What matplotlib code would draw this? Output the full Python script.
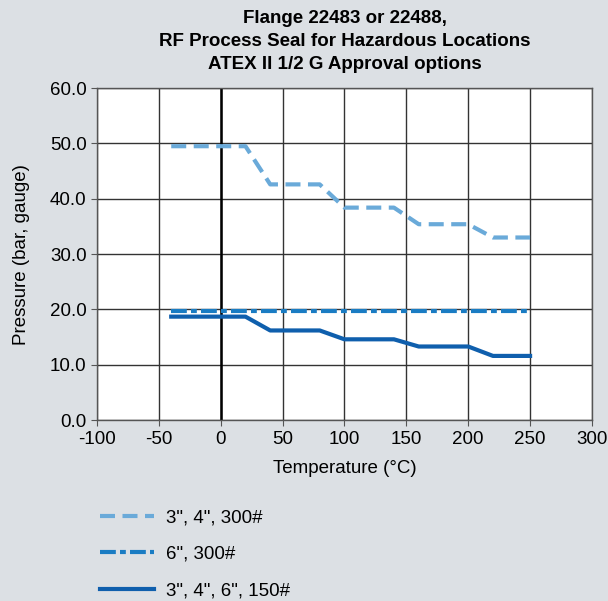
import matplotlib
matplotlib.use("Agg")
from matplotlib import pyplot as plt

plt.rcParams["font.family"] = ["Liberation Sans", "DejaVu Sans"]
plt.rcParams["axes.unicode_minus"] = False

# data
temp_300 = [-40, 20, 40, 80, 100, 140, 160, 200, 220, 250]
press_300 = [49.5, 49.5, 42.6, 42.6, 38.4, 38.4, 35.4, 35.4, 33.0, 33.0]

temp_6in = [-40, 250]
press_6in = [19.8, 19.8]

temp_150 = [-40, 20, 40, 80, 100, 140, 160, 200, 220, 250]
press_150 = [18.7, 18.7, 16.2, 16.2, 14.6, 14.6, 13.3, 13.3, 11.6, 11.6]

labels = ['3", 4", 300#', '6", 300#', '3", 4", 6", 150#']
x_ticks = [-100, -50, 0, 50, 100, 150, 200, 250, 300]
y_ticks = [0, 10, 20, 30, 40, 50, 60]

fs = 13.5
bg = "#dce0e4"
fig = plt.figure(figsize=(6.08, 6.01), dpi=100, facecolor=bg)
ax = fig.add_axes([0.1595, 0.301, 0.8141, 0.5524])
ax.set_facecolor("white")

l1, = ax.plot(temp_300, press_300, color="#6aaad9", lw=3.0,
              dashes=(3.6, 1.8))
l2, = ax.plot(temp_6in, press_6in, color="#1a7cc3", lw=3.0,
              dashes=(3.8, 1.0, 1.4, 1.0))
l3, = ax.plot(temp_150, press_150, color="#0f5fad", lw=3.0)

ax.set_xlim(-100, 300)
ax.set_ylim(0, 60)
ax.set_xticks(x_ticks)
ax.set_yticks(y_ticks)
ax.set_yticklabels(["%.1f" % v for v in y_ticks])
ax.grid(True, color="#333333", lw=1.0)
ax.set_axisbelow(True)
ax.axvline(0, color="black", lw=1.8, zorder=1)
for s in ax.spines.values():
    s.set_color("#555555")
    s.set_linewidth(1.0)
ax.tick_params(labelsize=fs, length=4, color="#555555")

ax.set_xlabel("Temperature (°C)", fontsize=fs, labelpad=9)
ax.set_ylabel("Pressure (bar, gauge)", fontsize=fs, labelpad=14)
fig.text(0.567, 0.983, "Flange 22483 or 22488,\nRF Process Seal for Hazardous Locations\nATEX II 1/2 G Approval options",
         ha="center", va="top", fontsize=fs, fontweight="bold",
         linespacing=1.45)

fig.legend([l1, l2, l3], labels, loc="upper left",
           bbox_to_anchor=(0.164, 0.153), bbox_transform=fig.transFigure,
           frameon=False, fontsize=fs, handlelength=2.9, handletextpad=0.65,
           labelspacing=1.05, borderpad=0, borderaxespad=0)

fig.savefig("out.png", dpi=100, facecolor=bg)
